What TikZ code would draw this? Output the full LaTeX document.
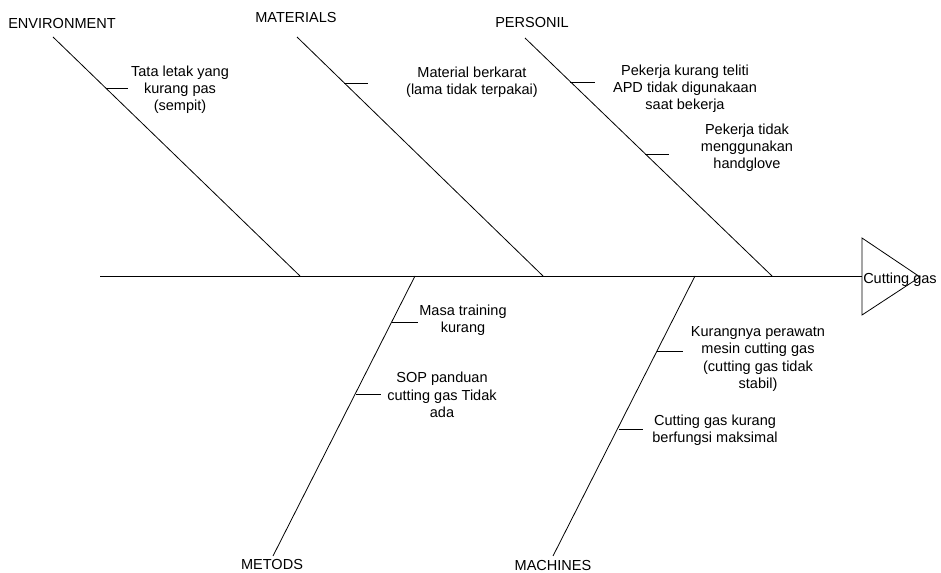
\documentclass[tikz,border=0pt]{standalone}
\usepackage{fontspec}
\setmainfont{Liberation Sans}
\begin{document}
\begin{tikzpicture}[x=0.75pt,y=-0.75pt,
  bone/.style={draw=black,line width=0.6pt},
  cause/.style={align=center,inner sep=0pt,font=\fontsize{10.9}{12.9}\selectfont},
  cat/.style={inner sep=0pt,font=\fontsize{10.9}{12.9}\selectfont}]
\useasboundingbox (0,0) rectangle (941,573);
% spine and head
\coordinate (sL) at (100,276);
\coordinate (sR) at (862,276);
\draw[bone] (sL) -- (sR);
\coordinate (t1) at (862,238);
\coordinate (t2) at (920,277);
\coordinate (t3) at (862,315);
\draw[bone] (t1) -- (t2) -- (t3) -- cycle;
\node[cat] (head) at (900,280) {Cutting gas};
% category labels
\node[cat] (env) at (62,24) {ENVIRONMENT};
\node[cat] (mat) at (296,18) {MATERIALS};
\node[cat] (per) at (532,23) {PERSONIL};
\node[cat] (met) at (272,564) {METODS};
\node[cat] (mac) at (553,565) {MACHINES};
% bone end points
\coordinate (envA) at (53,37);   \coordinate (envB) at (300,276);
\coordinate (matA) at (297,37);  \coordinate (matB) at (543,276);
\coordinate (perA) at (525,38);  \coordinate (perB) at (772,276);
\coordinate (metA) at (273,556); \coordinate (metB) at (415,276);
\coordinate (macA) at (553,556); \coordinate (macB) at (695,276);
\draw[bone] (envA) -- (envB);
\draw[bone] (matA) -- (matB);
\draw[bone] (perA) -- (perB);
\draw[bone] (metA) -- (metB);
\draw[bone] (macA) -- (macB);
% sub bones
\coordinate (e1a) at (105.5,88); \coordinate (e1b) at (128,88);
\coordinate (m1a) at (344,83);   \coordinate (m1b) at (368,83);
\coordinate (p1a) at (570,82);   \coordinate (p1b) at (595,82);
\coordinate (p2a) at (645,154);  \coordinate (p2b) at (669,154);
\coordinate (t1a) at (392,322);  \coordinate (t1b) at (418,322);
\coordinate (t2a) at (356,394);  \coordinate (t2b) at (381,394);
\coordinate (c1a) at (657,351);  \coordinate (c1b) at (683,351);
\coordinate (c2a) at (619,429);  \coordinate (c2b) at (643,429);
\foreach \a/\b in {e1a/e1b,m1a/m1b,p1a/p1b,p2a/p2b,t1a/t1b,t2a/t2b,c1a/c1b,c2a/c2b}
  \draw[bone] (\a) -- (\b);
% cause texts
\node[cause] (envT) at (180,90) {Tata letak yang\\kurang pas\\(sempit)};
\node[cause] (matT) at (472,82) {Material berkarat\\(lama tidak terpakai)};
\node[cause] (perT1) at (685,88.5) {Pekerja kurang teliti\\APD tidak digunakaan\\saat bekerja};
\node[cause] (perT2) at (747,148) {Pekerja tidak\\menggunakan\\handglove};
\node[cause] (metT1) at (463,320.5) {Masa training\\kurang};
\node[cause] (metT2) at (442,395) {SOP panduan\\cutting gas Tidak\\ada};
\node[cause] (macT1) at (758,359) {Kurangnya perawatn\\mesin cutting gas\\(cutting gas tidak\\stabil)};
\node[cause] (macT2) at (715,430) {Cutting gas kurang\\berfungsi maksimal};
\end{tikzpicture}
\end{document}
